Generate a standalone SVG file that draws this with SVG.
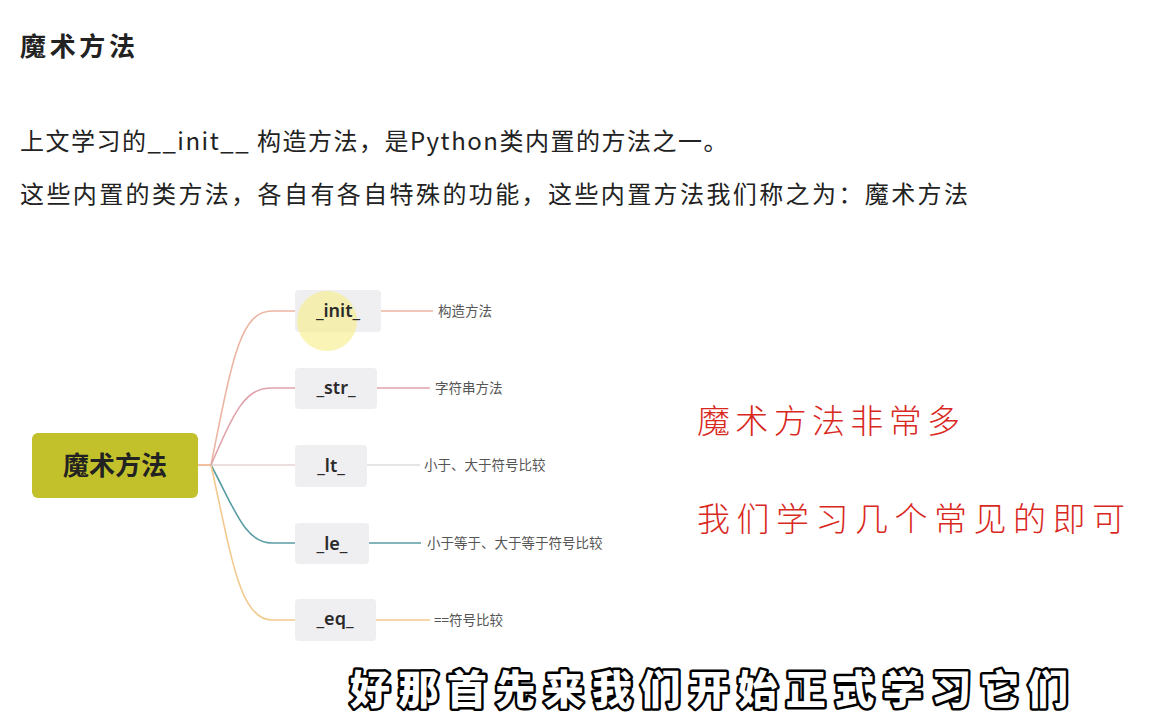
<svg xmlns="http://www.w3.org/2000/svg" width="1157" height="719" viewBox="0 0 1157 719">
<style>
.body{font-family:"Noto Sans CJK SC","Noto Sans",sans-serif;fill:#222;}
.node rect{fill:#efeef1;}
.node text{font-family:"Noto Sans","Noto Sans CJK SC",sans-serif;font-size:18px;font-weight:600;fill:#2a2a2a;text-anchor:middle;}
.leaf{font-family:"Noto Sans CJK SC",sans-serif;font-size:13.5px;fill:#555;}
.conn path{fill:none;stroke-width:1.6;}
.red{font-family:"Noto Sans CJK SC",sans-serif;font-size:33px;fill:#d9281e;font-weight:300;}
.cap{font-family:"Noto Sans CJK SC",sans-serif;font-size:40px;font-weight:900;fill:#fff;stroke:#000;stroke-width:5;paint-order:stroke;stroke-linejoin:round;}
</style>
<rect width="1157" height="719" fill="#fff"/>
<text class="body" x="20" y="56" font-size="26" font-weight="700" textLength="115" lengthAdjust="spacing">魔术方法</text>
<text class="body" x="20" y="150" font-size="24" letter-spacing="1.5">上文学习的__init__ 构造方法，是Python类内置的方法之一。</text>
<text class="body" x="20" y="203" font-size="24" textLength="948" lengthAdjust="spacing">这些内置的类方法，各自有各自特殊的功能，这些内置方法我们称之为：魔术方法</text>

<g id="connectors" class="conn">
<path d="M198 465 L211 465" stroke="#ecb08a"/>
<path d="M211 465 C 232 360, 240 311, 272 311 L 296 311" stroke="#ebb5a2"/>
<path d="M211 465 C 235 410, 245 388, 272 388 L 296 388" stroke="#e0a2aa"/>
<path d="M211 465 L 296 465" stroke="#e6d3d3"/>
<path d="M211 465 C 235 510, 245 543, 272 543 L 296 543" stroke="#5a9ca4"/>
<path d="M211 465 C 232 560, 240 620, 272 620 L 296 620" stroke="#f2c98e"/>
<path d="M381 311 L 433 311" stroke="#ebb5a2"/>
<path d="M377 388 L 430 388" stroke="#e0a2aa"/>
<path d="M367 465 L 420 465" stroke="#dcdcdc"/>
<path d="M369 543 L 421 543" stroke="#5a9ca4"/>
<path d="M376 620 L 430 620" stroke="#f2c98e"/>
</g>

<g id="root">
<rect x="32" y="433" width="166" height="65" rx="6" fill="#c3c12b"/>
<text x="115" y="475" font-family="Noto Sans CJK SC,sans-serif" font-size="26" font-weight="700" fill="#222" text-anchor="middle">魔术方法</text>
</g>
<g id="n-init" class="node">
<rect x="295" y="290" width="86" height="42" rx="4"/>
<circle cx="327" cy="321" r="30" fill="#f7ef86" opacity="0.6"/>
<text x="338" y="317">_init_</text>
</g>
<g id="n-str" class="node">
<rect x="295" y="368" width="82" height="41" rx="4"/>
<text x="336" y="394">_str_</text>
</g>
<g id="n-lt" class="node">
<rect x="295" y="445" width="72" height="42" rx="4"/>
<text x="331" y="472">_lt_</text>
</g>
<g id="n-le" class="node">
<rect x="295" y="523" width="74" height="41" rx="4"/>
<text x="332" y="550">_le_</text>
</g>
<g id="n-eq" class="node">
<rect x="295" y="599" width="81" height="42" rx="4"/>
<text x="335" y="625">_eq_</text>
</g>

<g id="leaves">
<text class="leaf" x="438" y="316">构造方法</text>
<text class="leaf" x="435" y="393">字符串方法</text>
<text class="leaf" x="424" y="470">小于、大于符号比较</text>
<text class="leaf" x="427" y="548">小于等于、大于等于符号比较</text>
<text class="leaf" x="434" y="625">==符号比较</text>
</g>

<text class="red" x="697" y="433" textLength="263" lengthAdjust="spacing">魔术方法非常多</text>
<text class="red" x="697" y="531" textLength="428" lengthAdjust="spacing">我们学习几个常见的即可</text>

<text class="cap" x="350" y="704" textLength="718" lengthAdjust="spacing">好那首先来我们开始正式学习它们</text>
</svg>
